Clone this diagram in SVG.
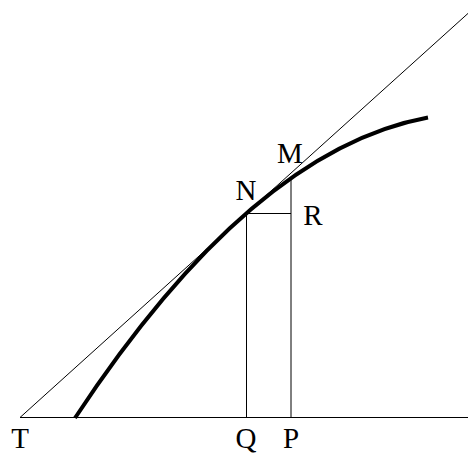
<svg xmlns="http://www.w3.org/2000/svg" width="468" height="454" viewBox="0 0 468 454">
<style>
.thin{stroke:#000;stroke-width:1;fill:none}
.curve{stroke:#000;stroke-width:4;fill:none}
.lbl{font-family:"Liberation Serif","DejaVu Serif",serif;font-size:29px;fill:#000;text-anchor:middle}
</style>
<rect width="468" height="454" fill="#fff"/>
<g id="connectors">
<line class="thin" x1="20" y1="417.5" x2="468" y2="417.5"/>
<line class="thin" x1="20" y1="417.5" x2="470" y2="11.6"/>
<line class="thin" x1="246.5" y1="213.5" x2="246.5" y2="417.5"/>
<line class="thin" x1="291" y1="177" x2="291" y2="417.5"/>
<line class="thin" x1="246.5" y1="213.5" x2="291" y2="213.5"/>
<path class="curve" d="M75,418 Q251.5,150 428,117.5"/>
</g>
<g id="T"><text class="lbl" x="20" y="447.5">T</text></g>
<g id="Q"><text class="lbl" x="246" y="447.5">Q</text></g>
<g id="P"><text class="lbl" x="291" y="447.5">P</text></g>
<g id="N"><text class="lbl" x="246" y="200">N</text></g>
<g id="M"><text class="lbl" x="290" y="163">M</text></g>
<g id="R"><text class="lbl" x="313" y="225">R</text></g>
</svg>
